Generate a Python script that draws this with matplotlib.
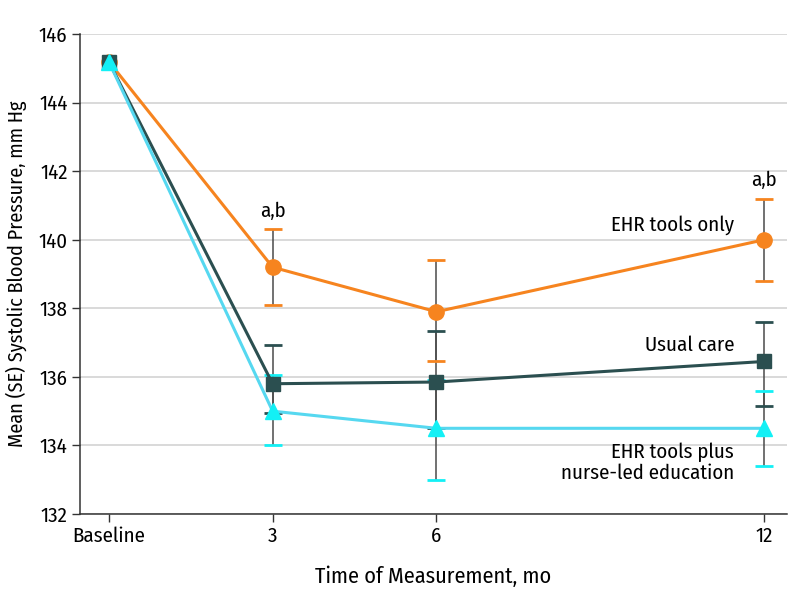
import numpy as np
import matplotlib
matplotlib.use("Agg")
import matplotlib.pyplot as plt

# ---- datos ----
months = [0, 3, 6, 12]
tick_labels = ["Baseline", "3", "6", "12"]

ehr_mean = [145.2, 139.2, 137.9, 140.0]
ehr_low = [145.2, 138.1, 136.45, 138.8]
ehr_high = [145.2, 140.3, 139.4, 141.2]

usual_mean = [145.2, 135.8, 135.85, 136.45]
usual_low = [145.2, 134.95, 134.5, 135.15]
usual_high = [145.2, 136.92, 137.35, 137.6]

nurse_mean = [145.2, 135.0, 134.5, 134.5]
nurse_low = [145.2, 134.0, 133.0, 133.4]
nurse_high = [145.2, 136.05, 135.9, 135.6]

c_ehr = "#F6841F"
c_usual = "#2B4F50"
c_nurse = "#56D8F0"
c_nurse_mk = "#13F0F5"
c_bar = "#4A4A4A"

plt.rcParams["font.family"] = ["Fira Sans Condensed", "Roboto Condensed",
                               "Asap Condensed", "DejaVu Sans"]

fig = plt.figure(figsize=(7.98, 6.09), dpi=100)
ax = fig.add_axes([0.1003, 0.156, 0.886, 0.788])

series = [
    (ehr_mean, ehr_low, ehr_high, c_ehr, c_ehr, "o", 11),
    (usual_mean, usual_low, usual_high, c_usual, c_usual, "s", 10),
    (nurse_mean, nurse_low, nurse_high, c_nurse, c_nurse_mk, "^", 11),
]

# barras de error (linea vertical gris, topes de color)
for mean, low, high, col, mcol, mk, ms in series:
    m = np.array(months[1:])
    lo = np.array(low[1:])
    hi = np.array(high[1:])
    ax.vlines(m, lo, hi, color=c_bar, lw=1.1, zorder=2)
    ax.plot(m, lo, ls="none", marker="_", ms=13, mew=2, color=mcol, zorder=3)
    ax.plot(m, hi, ls="none", marker="_", ms=13, mew=2, color=mcol, zorder=3)

for mean, low, high, col, mcol, mk, ms in series:
    ax.plot(months, mean, color=col, lw=2.2, zorder=4)
    ax.plot(months, mean, ls="none", marker=mk, ms=ms, color=mcol, zorder=5)

fs = 15
ax.text(3, 140.55, "a,b", ha="center", va="bottom", fontsize=fs)
ax.text(12, 141.45, "a,b", ha="center", va="bottom", fontsize=fs)
ax.text(11.45, 140.42, "EHR tools only", ha="right", va="center", fontsize=fs)
ax.text(11.45, 136.92, "Usual care", ha="right", va="center", fontsize=fs)
ax.text(11.45, 133.5, "EHR tools plus\nnurse-led education", ha="right", va="center",
        fontsize=fs, linespacing=1.08)

ax.set_xlim(-0.526, 12.42)
ax.set_ylim(132, 146)
ax.set_xticks(months)
ax.set_xticklabels(tick_labels)
ax.set_yticks(np.arange(132, 147, 2))
ax.yaxis.grid(True, color="#D3D3D3", lw=1.2)
ax.set_axisbelow(True)

for s in ["top", "right"]:
    ax.spines[s].set_visible(False)
for s in ["left", "bottom"]:
    ax.spines[s].set_color("#333333")
    ax.spines[s].set_linewidth(1.1)
ax.tick_params(colors="#333333", labelcolor="black", labelsize=fs, length=6, width=1, pad=3)

ax.set_xlabel("Time of Measurement, mo", fontsize=16, labelpad=14)
ax.set_ylabel("Mean (SE) Systolic Blood Pressure, mm Hg", fontsize=14.5, labelpad=8)

fig.savefig("out.png", dpi=100)
